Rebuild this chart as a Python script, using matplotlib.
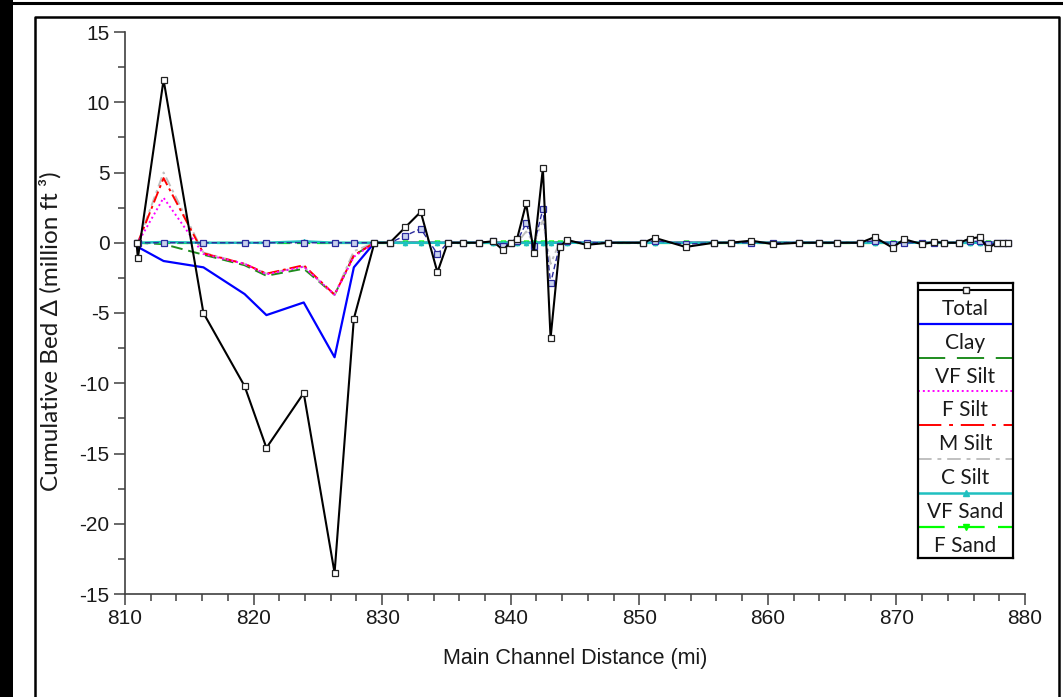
import matplotlib
matplotlib.use("Agg")
import matplotlib.pyplot as plt
from matplotlib.lines import Line2D
from matplotlib.patches import Rectangle
from matplotlib.ticker import MultipleLocator

plt.rcParams["font.family"] = ["Liberation Sans", "DejaVu Sans"]

# river miles of the survey cross sections
stations = [810.9, 811.0, 813.0, 816.1, 819.3, 821.0, 823.9, 826.3, 827.8, 829.4,
            830.6, 831.8, 833.0, 834.3, 835.1, 836.3, 837.5, 838.6, 839.4, 840.0,
            840.5, 841.2, 841.8, 842.5, 843.1, 843.8, 844.4, 845.9, 847.6, 850.3,
            851.2, 853.6, 855.8, 857.1, 858.7, 860.4, 862.4, 864.0, 865.4, 867.2,
            868.3, 869.7, 870.6, 872.0, 872.9, 873.7, 874.9, 875.7, 876.5, 877.1,
            877.8, 878.3, 878.7]

# cumulative bed change, million ft^3
total = [0.0, -1.1, 11.6, -5.0, -10.2, -14.6, -10.7, -23.5, -5.4, 0.0,
         0.0, 1.1, 2.2, -2.1, 0.0, 0.0, 0.0, 0.1, -0.5, 0.0,
         0.3, 2.8, -0.7, 5.3, -6.8, -0.3, 0.2, -0.15, 0.0, 0.0,
         0.35, -0.3, 0.0, 0.0, 0.15, -0.1, 0.0, 0.0, 0.0, 0.0,
         0.4, -0.35, 0.25, -0.1, 0.05, 0.0, 0.0, 0.3, 0.4, -0.4,
         0.0, 0.0, 0.0]
clay = [0.0, -0.3, -1.3, -1.75, -3.65, -5.15, -4.25, -8.15, -1.75, 0.0,
        0.0, 0.0, 0.0, 0.0, 0.0, 0.0, 0.0, 0.0, 0.0, 0.0,
        0.0, 0.0, 0.0, 0.0, 0.0, 0.0, 0.0, 0.0, 0.0, 0.0,
        0.0, 0.0, 0.0, 0.0, 0.0, 0.0, 0.0, 0.0, 0.0, 0.0,
        0.0, 0.0, 0.0, 0.0, 0.0, 0.0, 0.0, 0.0, 0.0, 0.0,
        0.0, 0.0, 0.0]
vf_silt = [0.0, 0.0, -0.1, -0.85, -1.6, -2.35, -1.85, -3.7, -0.9, 0.0,
           0.0, 0.0, 0.0, 0.0, 0.0, 0.0, 0.0, 0.0, 0.0, 0.0,
           0.0, 0.0, 0.0, 0.0, 0.0, 0.0, 0.0, 0.0, 0.0, 0.0,
           0.0, 0.0, 0.0, 0.0, 0.0, 0.0, 0.0, 0.0, 0.0, 0.0,
           0.0, 0.0, 0.0, 0.0, 0.0, 0.0, 0.0, 0.0, 0.0, 0.0,
           0.0, 0.0, 0.0]
f_silt = [0.0, 0.0, 3.2, -0.8, -1.5, -2.25, -1.7, -3.7, -1.0, 0.0,
          0.0, 0.0, 0.0, 0.0, 0.0, 0.0, 0.0, 0.0, 0.0, 0.0,
          0.0, 0.0, 0.0, 0.0, 0.0, 0.0, 0.0, 0.0, 0.0, 0.0,
          0.0, 0.0, 0.0, 0.0, 0.0, 0.0, 0.0, 0.0, 0.0, 0.0,
          0.0, 0.0, 0.0, 0.0, 0.0, 0.0, 0.0, 0.0, 0.0, 0.0,
          0.0, 0.0, 0.0]
m_silt = [0.0, 0.0, 4.6, -0.75, -1.5, -2.2, -1.6, -3.7, -0.9, 0.0,
          0.0, 0.0, 0.0, 0.0, 0.0, 0.0, 0.0, 0.0, 0.0, 0.0,
          0.0, 0.0, 0.0, 0.0, 0.0, 0.0, 0.0, 0.0, 0.0, 0.0,
          0.0, 0.0, 0.0, 0.0, 0.0, 0.0, 0.0, 0.0, 0.0, 0.0,
          0.0, 0.0, 0.0, 0.0, 0.0, 0.0, 0.0, 0.0, 0.0, 0.0,
          0.0, 0.0, 0.0]
c_silt = [0.0, 0.0, 5.0, -0.7, -1.5, -2.2, -1.7, -3.7, -0.6, 0.0,
          0.0, 0.0, 0.0, 0.0, 0.0, 0.0, 0.0, 0.0, 0.0, 0.0,
          0.0, 0.8, 0.0, 1.6, -1.5, 0.0, 0.0, 0.0, 0.0, 0.0,
          0.0, 0.0, 0.0, 0.0, 0.0, 0.0, 0.0, 0.0, 0.0, 0.0,
          0.0, 0.0, 0.0, 0.0, 0.0, 0.0, 0.0, 0.0, 0.0, 0.0,
          0.0, 0.0, 0.0]
vf_sand = [0.0, 0.0, 0.05, 0.0, 0.0, 0.0, 0.1, 0.0, 0.0, 0.0,
           0.0, 0.0, 0.0, 0.0, 0.0, 0.0, 0.0, 0.0, 0.0, 0.0,
           0.0, 0.0, 0.0, 0.0, 0.0, 0.0, 0.0, 0.0, 0.0, 0.0,
           0.0, 0.0, 0.0, 0.0, 0.0, 0.0, 0.0, 0.0, 0.0, 0.0,
           0.0, 0.0, 0.0, 0.0, 0.0, 0.0, 0.0, 0.0, 0.0, 0.0,
           0.0, 0.0, 0.0]
f_sand = [0.0, 0.0, 0.0, 0.0, 0.0, 0.0, 0.0, 0.0, 0.0, 0.0,
          0.0, 0.0, 0.0, 0.0, 0.0, 0.0, 0.0, 0.0, 0.0, 0.0,
          0.0, 0.0, 0.0, 0.0, 0.0, 0.0, 0.0, 0.0, 0.0, 0.0,
          0.0, 0.0, 0.0, 0.0, 0.0, 0.0, 0.0, 0.0, 0.0, 0.0,
          0.0, 0.0, 0.0, 0.0, 0.0, 0.0, 0.0, 0.0, 0.0, 0.0,
          0.0, 0.0, 0.0]
# extra sand fraction carried in the model output (not in the key)
m_sand = [0.0, 0.0, 0.0, 0.0, 0.0, 0.0, 0.0, 0.0, 0.0, 0.0,
          0.0, 0.5, 1.0, -0.8, 0.0, 0.0, 0.0, 0.1, -0.2, 0.0,
          0.1, 1.4, -0.2, 2.4, -2.9, -0.2, 0.1, 0.0, 0.0, 0.0,
          0.15, -0.1, 0.0, 0.0, 0.0, 0.0, 0.0, 0.0, 0.0, 0.0,
          0.15, -0.1, 0.0, 0.0, 0.0, 0.0, 0.0, 0.1, 0.1, -0.1,
          0.0, 0.0, 0.0]

y_ticks = [-25, -20, -15, -10, -5, 0, 5, 10, 15]
y_tick_labels = ["-15", "-20", "-15", "-10", "-5", "0", "5", "10", "15"]
x_ticks = [810, 820, 830, 840, 850, 860, 870, 880]

legend_labels = ["Total", "Clay", "VF Silt", "F Silt", "M Silt", "C Silt", "VF Sand", "F Sand"]

W, H = 1063, 697
fig = plt.figure(figsize=(W / 100, H / 100), dpi=100)

# page border pieces
fig.add_artist(Rectangle((0, 0), 13 / W, 1, transform=fig.transFigure, color="black", lw=0))
fig.add_artist(Line2D([13 / W, 1], [1 - 3 / H, 1 - 3 / H], transform=fig.transFigure, color="black", lw=2.2))
top = 1 - 17 / H
fig.add_artist(Line2D([35 / W, 35 / W, 1059 / W, 1059 / W], [0, top, top, 0],
                      transform=fig.transFigure, color="black", lw=1.8))

ax = fig.add_axes([125 / W, 1 - 594 / H, 900 / W, 562 / H])

styles = dict(
    clay=dict(color="#0000ff", lw=1.6),
    vf_silt=dict(color="#1e8c1e", lw=1.4, dashes=(6, 3)),
    f_silt=dict(color="#ff00ff", lw=1.4, dashes=(1, 1.5)),
    m_silt=dict(color="#ff0000", lw=1.4, dashes=(6, 2, 1.5, 2)),
    c_silt=dict(color="#c0c0c0", lw=1.4, dashes=(5, 2, 1.5, 2)),
    vf_sand=dict(color="#20c0c0", lw=1.8, marker="^", ms=3, mfc="#20c0c0"),
    f_sand=dict(color="#00ff00", lw=1.6, dashes=(6, 3), marker="v", ms=3.5, mfc="#00ff00"),
    total=dict(color="black", lw=1.5, marker="s", ms=4, mfc="white", mec="#222222", mew=0.9),
)
# the key uses stretched dash patterns
key_dashes = dict(vf_silt=(14, 6), m_silt=(12, 4, 2, 4), c_silt=(7, 3, 2, 3), f_sand=(12, 6))

ax.plot(stations, clay, zorder=3, **styles["clay"])
ax.plot(stations, vf_silt, zorder=3, **styles["vf_silt"])
ax.plot(stations, c_silt, zorder=3, **styles["c_silt"])
ax.plot(stations, m_silt, zorder=3, **styles["m_silt"])
ax.plot(stations, f_silt, zorder=3, **styles["f_silt"])
ax.plot(stations, f_sand, zorder=3, **styles["f_sand"])
ax.plot(stations, vf_sand, zorder=3.5, **styles["vf_sand"])
ax.plot(stations, m_sand, color="#2a2a9c", lw=1.0, dashes=(4, 2), marker="s", ms=4,
        mfc="#c8d2ee", mec="#2a2a9c", mew=0.9, zorder=4)
ax.plot(stations, total, zorder=5, **styles["total"])

ax.set_xlim(810, 880)
ax.set_ylim(-25, 15)
ax.set_xticks(x_ticks)
ax.set_yticks(y_ticks)
ax.set_yticklabels(y_tick_labels)
ax.xaxis.set_minor_locator(MultipleLocator(2))
ax.yaxis.set_minor_locator(MultipleLocator(2.5))
ax.tick_params(which="major", length=8, width=1.1, color="#404040", labelsize=15,
               labelcolor="#1a1a1a", pad=3)
ax.tick_params(which="minor", length=5, width=1.1, color="#404040")
for side in ("top", "right"):
    ax.spines[side].set_visible(False)
for side in ("left", "bottom"):
    ax.spines[side].set_color("#404040")
    ax.spines[side].set_linewidth(1.2)

ax.set_xlabel("Main Channel Distance (mi)", fontsize=15.5, color="#1a1a1a", labelpad=14)
fig.text(50 / W, 1 - 331 / H, "Cumulative Bed \u0394 (million ft \u00b3)", rotation=90,
         ha="center", va="center", fontsize=17.5, family="Lato", color="#1a1a1a")

# key box: line sample above each label
lax = fig.add_axes([918 / W, 1 - 558 / H, 95 / W, 275 / H])
lax.set_xlim(0, 1)
lax.set_ylim(275, 0)
lax.set_xticks([])
lax.set_yticks([])
for s in lax.spines.values():
    s.set_linewidth(1.6)
    s.set_color("black")
key_styles = ["total", "clay", "vf_silt", "f_silt", "m_silt", "c_silt", "vf_sand", "f_sand"]
step = 33.8
for k, (lab, key) in enumerate(zip(legend_labels, key_styles)):
    st = dict(styles[key])
    marker = st.pop("marker", None)
    ms = st.pop("ms", None)
    mfc = st.pop("mfc", None)
    st.pop("mec", None)
    st.pop("mew", None)
    if key in key_dashes:
        st["dashes"] = key_dashes[key]
    y_line = 7 + step * k
    lax.plot([0, 1], [y_line, y_line], **st)
    if marker:
        lax.plot([0.5], [y_line], marker=marker, ms=ms + 1, color=st["color"],
                 mfc=mfc if mfc else st["color"], mec="#222222" if key == "total" else st["color"])
    lax.text(0.5, 26 + step * k, lab, ha="center", va="center", fontsize=15,
             family="Lato", color="#1a1a1a")

fig.savefig("out.png", dpi=100)
